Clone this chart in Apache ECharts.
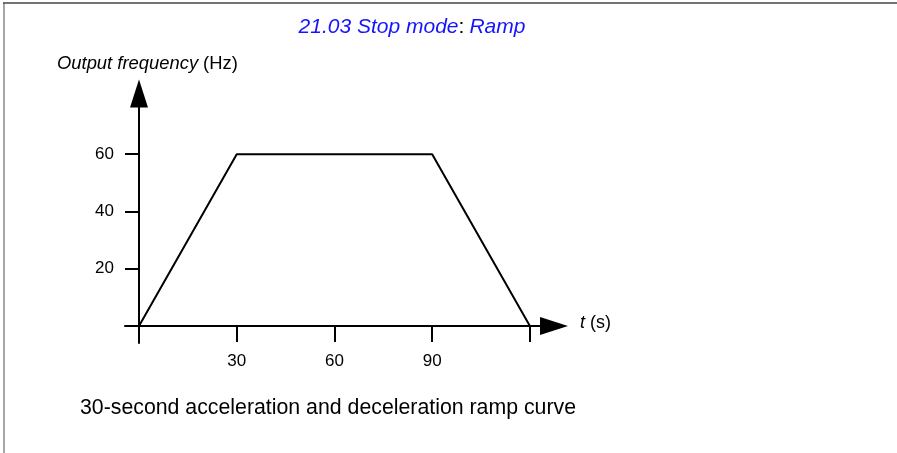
<!DOCTYPE html>
<html>
<head>
<meta charset="utf-8">
<script src="https://cdn.jsdelivr.net/npm/echarts@6/dist/echarts.min.js"></script>
<style>
html,body{margin:0;padding:0;background:#fff;}
#main{width:897px;height:453px;}
</style>
</head>
<body>
<div id="main"></div>
<script>
// Data
const rampTime = [0, 30, 90, 120];
const rampFreq = [0, 60, 60, 0];
const xTickValues = [30, 60, 90, 120];
const xLabelValues = [30, 60, 90];
const yTickValues = [20, 40, 60];
const titleMain = '21.03 Stop mode';
const titleValue = 'Ramp';
const yName = 'Output frequency';
const yUnit = '(Hz)';
const xName = 't';
const xUnit = '(s)';
const caption = '30-second acceleration and deceleration ramp curve';

const FONT = '"Liberation Sans", Arial, sans-serif';
const chart = echarts.init(document.getElementById('main'), null, {renderer: 'canvas'});

chart.setOption({
  backgroundColor: '#fff',
  animation: false,
  textStyle: {fontFamily: FONT},
  title: [
    {
      text: '{b|' + titleMain + '}{k|:} {b|' + titleValue + '}',
      left: 412, top: 17, textAlign: 'center', padding: 0,
      textStyle: {fontWeight: 'normal', rich: {
        b: {color: '#1414ff', fontStyle: 'italic', fontWeight: 'normal', fontSize: 21, fontFamily: FONT},
        k: {color: '#000', fontWeight: 'normal', fontSize: 21, fontFamily: FONT}
      }}
    },
    {
      text: '{i|' + yName + '} {n|' + yUnit + '}',
      left: 57, top: 55, padding: 0,
      textStyle: {fontWeight: 'normal', rich: {
        i: {color: '#000', fontStyle: 'italic', fontWeight: 'normal', fontSize: 18.4, fontFamily: FONT},
        n: {color: '#000', fontWeight: 'normal', fontSize: 18.4, fontFamily: FONT}
      }}
    },
    {
      text: '{i|' + xName + '} {n|' + xUnit + '}',
      left: 580, top: 314, padding: 0,
      textStyle: {fontWeight: 'normal', rich: {
        i: {color: '#000', fontStyle: 'italic', fontWeight: 'normal', fontSize: 18, fontFamily: FONT},
        n: {color: '#000', fontWeight: 'normal', fontSize: 18, fontFamily: FONT}
      }}
    },
    {
      text: caption,
      left: 80, top: 398, padding: 0,
      textStyle: {color: '#000', fontSize: 21.3, fontWeight: 'normal', fontFamily: FONT}
    }
  ],
  grid: {left: 125, right: 343, top: 93.5, bottom: 110, containLabel: false},
  xAxis: {
    type: 'value', min: -4.3, max: 127.4,
    splitLine: {show: false},
    axisLine: {onZero: true, lineStyle: {color: '#000', width: 2},
      symbol: ['none', 'triangle'], symbolSize: [18, 28]},
    axisTick: {show: true, customValues: xTickValues, length: 16, inside: false,
      lineStyle: {color: '#000', width: 2}},
    axisLabel: {customValues: xLabelValues, margin: 10, color: '#000', fontSize: 17, fontFamily: FONT}
  },
  yAxis: {
    type: 'value', min: -5.9, max: 81.2,
    splitLine: {show: false},
    axisLine: {onZero: true, lineStyle: {color: '#000', width: 2},
      symbol: ['none', 'triangle'], symbolSize: [18, 28]},
    axisTick: {show: true, customValues: yTickValues, length: 14, inside: false,
      lineStyle: {color: '#000', width: 2}},
    axisLabel: {customValues: yTickValues, margin: 11, color: '#000', fontSize: 17, fontFamily: FONT}
  },
  series: [{
    type: 'line',
    data: rampTime.map((t, i) => [t, rampFreq[i]]),
    showSymbol: false,
    lineStyle: {color: '#000', width: 2},
    z: 5
  }],
  graphic: [
    {type: 'line', shape: {x1: 4, y1: 3, x2: 4, y2: 453}, style: {stroke: '#8a8a8a', lineWidth: 1.5}},
    {type: 'line', shape: {x1: 3, y1: 3, x2: 897, y2: 3}, style: {stroke: '#444', lineWidth: 1.5}}
  ]
});
</script>
</body>
</html>
